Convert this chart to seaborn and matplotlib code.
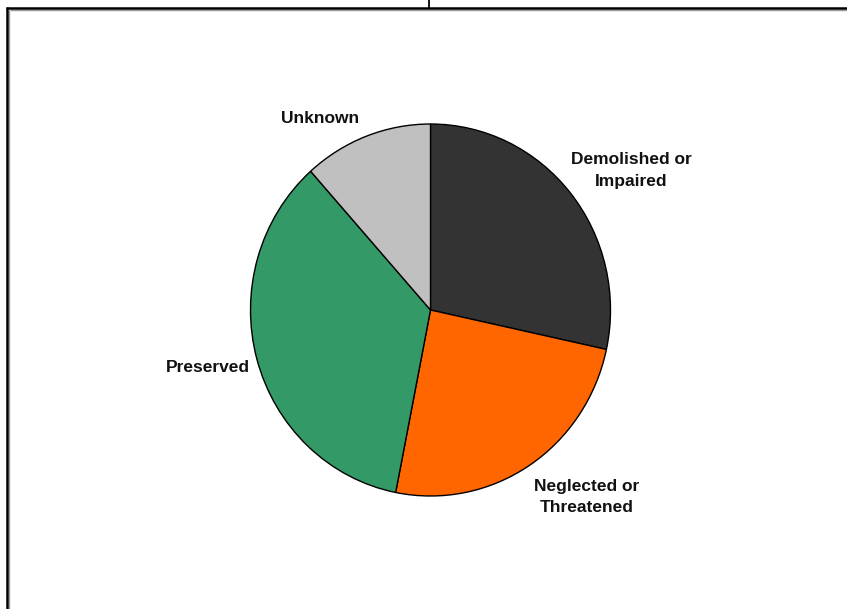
import matplotlib.pyplot as plt
import seaborn as sns
from matplotlib.lines import Line2D

# slice data (clockwise from 12 o'clock)
categories = ["Demolished or\nImpaired", "Neglected or\nThreatened", "Preserved", "Unknown"]
shares = [28.4, 24.7, 35.3, 11.6]
colors = ["#333333", "#FF6600", "#339966", "#C0C0C0"]

# label anchor points in pie units
label_x = [1.115, 0.87, -1.236, -0.614]
label_y = [0.75, -1.005, -0.31, 1.03]

sns.set_theme(style="white")
plt.rcParams['font.family'] = ['Liberation Sans', 'DejaVu Sans']

W, H = 847, 609
fig = plt.figure(figsize=(W / 100, H / 100), dpi=100)
fig.patch.set_facecolor("white")

# pie area in pixels: x 250.5-610.5, y 124-496
ax = fig.add_axes([250.5 / W, (H - 496) / H, 360 / W, 372 / H])
ax.pie(shares, colors=colors, startangle=90, counterclock=False,
       wedgeprops=dict(edgecolor="black", linewidth=1.0))
ax.set_aspect("auto")
ax.set_xlim(-1, 1)
ax.set_ylim(-1, 1)
ax.axis("off")

for lab, x, y in zip(categories, label_x, label_y):
    ax.text(x, y, lab, ha="center", va="center", fontsize=12.5, fontweight="bold",
            linespacing=1.55, color="#111111", clip_on=False)

# outer frame (cut off at right and bottom) and tick at top
def px_line(xs, ys, lw, c):
    fig.add_artist(Line2D([x / W for x in xs], [1 - y / H for y in ys],
                          transform=fig.transFigure, color=c, linewidth=lw,
                          solid_capstyle="butt"))

px_line([8.5, 8.5], [10, H], 1.0, "#999999")
px_line([10, W], [9.5, 9.5], 1.0, "#999999")
px_line([7, 7], [7, H], 1.8, "black")
px_line([6, W], [8, 8], 1.8, "black")
px_line([429, 429], [0, 8], 1.3, "black")

fig.savefig("out.png", dpi=100)
plt.close()
